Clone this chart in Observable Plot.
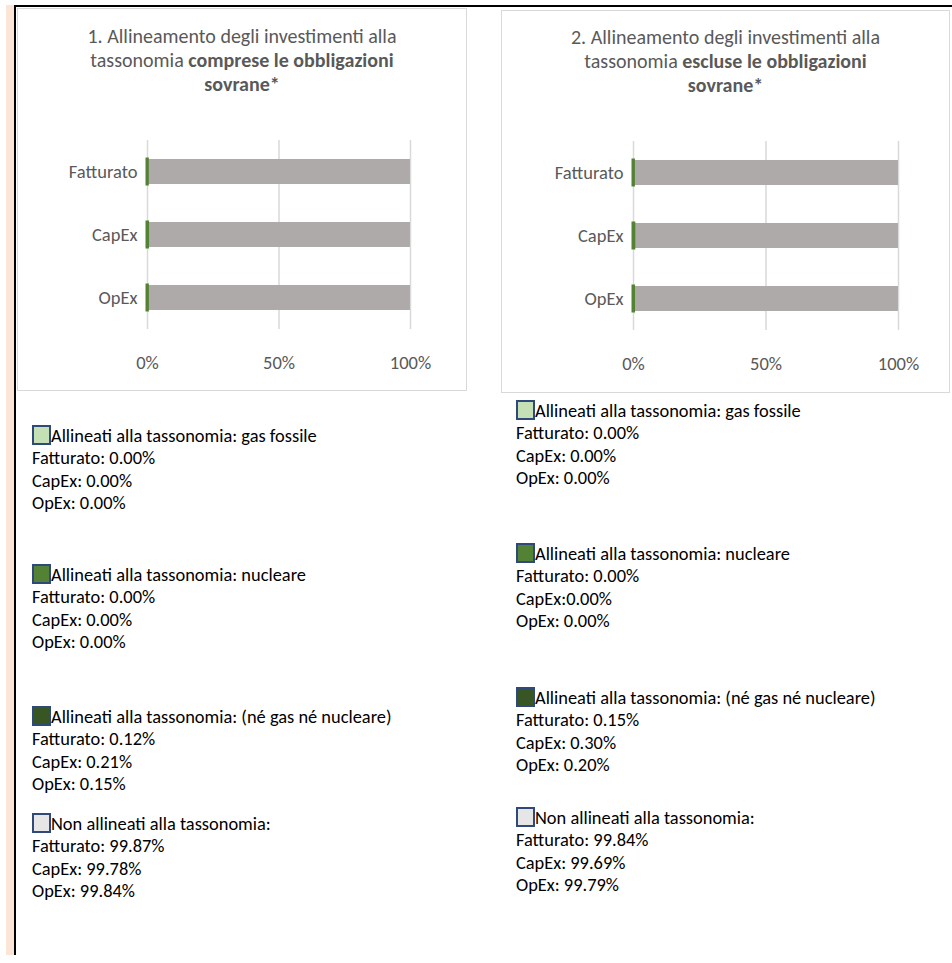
<!DOCTYPE html>
<html>
<head>
<meta charset="utf-8">
<script src="https://cdn.jsdelivr.net/npm/d3@7"></script>
<script src="https://cdn.jsdelivr.net/npm/@observablehq/plot@0.6"></script>
<style>
  html, body { margin: 0; padding: 0; background: #fff; }
  #page { position: relative; width: 952px; height: 963px; overflow: hidden;
          font-family: Carlito, Calibri, Lato, sans-serif; }
  .stripe { position: absolute; left: 6px; top: 5px; width: 8px; bottom: 8px; background: #fbe5d6; }
  .vline { position: absolute; left: 14px; top: 5px; width: 2px; bottom: 8px; background: #000; }
  .hline { position: absolute; left: 14px; top: 5px; right: 0; height: 2px; background: #000; }
  .box { position: absolute; border: 1.5px solid #d9d9d9; box-sizing: border-box; background: #fff; }
  .title { position: absolute; text-align: center; color: #595959; font-size: 20px; line-height: 24px; }
  .plot { position: absolute; }
  .legend { position: absolute; font-size: 18.4px; line-height: 22.4px; color: #000; white-space: nowrap; }
  .block { position: absolute; left: 0; }
  .sw { display: inline-block; width: 15px; height: 16px; border: 2px solid #2f4a7a; vertical-align: -3px; }
</style>
</head>
<body>
<div id="page">
  <div class="stripe"></div>
  <div class="vline"></div>
  <div class="hline"></div>
  <div class="box" style="left:17px; top:8px; width:450px; height:383px;"></div>
  <div class="box" style="left:501px; top:10px; width:449px; height:383px;"></div>
  <div class="title" style="left:17px; top:24px; width:450px;">
    1. Allineamento degli investimenti alla<br>tassonomia <b>comprese le obbligazioni</b><br><b>sovrane*</b>
  </div>
  <div class="title" style="left:501px; top:25px; width:449px;">
    2. Allineamento degli investimenti alla<br>tassonomia <b>escluse le obbligazioni</b><br><b>sovrane*</b>
  </div>
  <div id="plot1" class="plot" style="left:17px; top:110px;"></div>
  <div id="plot2" class="plot" style="left:501px; top:111px;"></div>
  <div id="legend1" class="legend" style="left:32px; top:0;"></div>
  <div id="legend2" class="legend" style="left:516px; top:0;"></div>
</div>
<script>
// Categories and series
const categories = ["Fatturato", "CapEx", "OpEx"];
const seriesHeads = [
  "Allineati alla tassonomia: gas fossile",
  "Allineati alla tassonomia: nucleare",
  "Allineati alla tassonomia: (né gas né nucleare)",
  "Non allineati alla tassonomia:"
];

// 1. Including sovereign bonds (percent per category)
const inclGas   = [0.00, 0.00, 0.00];
const inclNuc   = [0.00, 0.00, 0.00];
const inclOther = [0.12, 0.21, 0.15];
const inclNon   = [99.87, 99.78, 99.84];

// 2. Excluding sovereign bonds (percent per category)
const exclGas   = [0.00, 0.00, 0.00];
const exclNuc   = [0.00, 0.00, 0.00];
const exclOther = [0.15, 0.30, 0.20];
const exclNon   = [99.84, 99.69, 99.79];

// Axis ticks (percent)
const xTicks = [0, 50, 100];

// Styling
const barFill   = ["#a9d18e", "#548235", "#375623", "#aeaaaa"];
const barStroke = ["#a9d18e", "#548235", "#548235", "none"];
const swatchFill = ["#c5e0b4", "#548235", "#375623", "#e7e6e6"];
const chartFont = "Carlito, Calibri, Lato, sans-serif";

// Running totals per category, in stacking order
function stackRows(cols) {
  const rows = [];
  categories.forEach((cat, i) => {
    let acc = 0;
    cols.forEach((vals, s) => {
      rows.push({cat, s, x1: acc, x2: acc + vals[i]});
      acc += vals[i];
    });
  });
  return rows;
}

function chart(cols, width, ml, mr) {
  const rows = stackRows(cols);
  const seriesMarks = [0, 1, 2].map(s =>
    Plot.barX(rows.filter(r => r.s === s), {
      x1: "x1", x2: "x2", y: "cat",
      fill: barFill[s], stroke: barStroke[s], strokeWidth: 3
    })
  );
  return Plot.plot({
    width, height: 281,
    marginLeft: ml, marginRight: mr, marginTop: 30, marginBottom: 62,
    style: {fontFamily: chartFont, fontSize: "18.5px", color: "#595959", background: "transparent", overflow: "visible"},
    x: {domain: [0, 100], ticks: xTicks, tickFormat: d => d + "%", tickSize: 0, tickPadding: 26, label: null},
    y: {domain: categories, paddingInner: 0.6, paddingOuter: 0.3, tickSize: 0, tickPadding: 10, label: null},
    marks: [
      Plot.ruleX(xTicks, {stroke: "#d9d9d9", strokeWidth: 1.5}),
      Plot.barX(rows.filter(r => r.s === 3), {x1: "x1", x2: "x2", y: "cat", fill: barFill[3]}),
      ...seriesMarks
    ]
  });
}

document.getElementById("plot1").append(chart([inclGas, inclNuc, inclOther, inclNon], 450, 130, 57));
document.getElementById("plot2").append(chart([exclGas, exclNuc, exclOther, exclNon], 449, 132, 52));

// Text legend with values under each chart
const fmt = v => v.toFixed(2) + "%";
function legend(id, cols, tops, seps) {
  const root = document.getElementById(id);
  cols.forEach((vals, s) => {
    const block = document.createElement("div");
    block.className = "block";
    block.style.top = tops[s] + "px";
    const head = document.createElement("div");
    const sw = document.createElement("span");
    sw.className = "sw";
    sw.style.background = swatchFill[s];
    head.append(sw, document.createTextNode(seriesHeads[s]));
    block.append(head);
    categories.forEach((cat, i) => {
      const line = document.createElement("div");
      const sep = (seps && seps[s]) ? seps[s][i] : ": ";
      line.textContent = cat + sep + fmt(vals[i]);
      block.append(line);
    });
    root.append(block);
  });
}
legend("legend1", [inclGas, inclNuc, inclOther, inclNon], [425, 564, 706, 813]);
legend("legend2", [exclGas, exclNuc, exclOther, exclNon], [400, 543, 687, 807],
       {1: [": ", ":", ": "]});
</script>
</body>
</html>
